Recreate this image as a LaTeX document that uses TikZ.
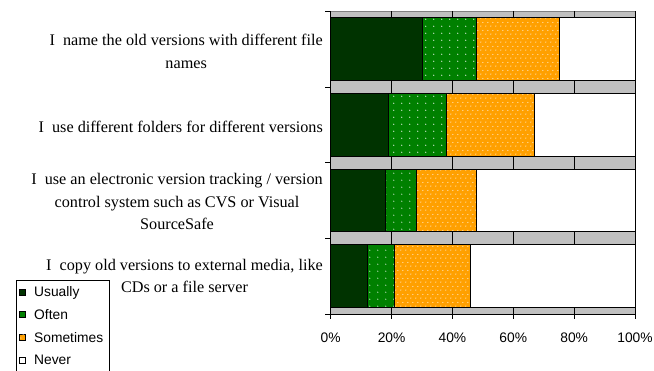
\documentclass[tikz,border=0pt]{standalone}
\usepackage{fontspec}
\setmainfont{Liberation Serif}
\newfontfamily\arialf{Liberation Sans}
\usetikzlibrary{patterns.meta}
\definecolor{cUsu}{HTML}{003300}
\definecolor{cOft}{HTML}{008000}
\definecolor{cSom}{HTML}{FFA000}
\definecolor{cGray}{HTML}{C0C0C0}
\definecolor{cFrame}{HTML}{808080}
\tikzdeclarepattern{
  name=oftdots,
  type=uncolored,
  bounding box={(0pt,0pt) and (8pt,7pt)},
  tile size={(8pt,7pt)},
  code={\fill (2pt,2pt) circle (0.65pt);}
}
\tikzdeclarepattern{
  name=somdots,
  type=uncolored,
  bounding box={(0pt,0pt) and (5pt,8pt)},
  tile size={(5pt,8pt)},
  code={\fill (1pt,1pt) circle (0.6pt); \fill (3.5pt,5pt) circle (0.6pt);}
}
\begin{document}
\begin{tikzpicture}[x=1pt,y=-1pt,
  catlabel/.style={anchor=east,inner sep=0pt,align=center,font=\fontsize{16.2}{22.7}\selectfont},
  ticklabel/.style={inner sep=0pt,font=\arialf\fontsize{13.8}{16}\selectfont},
  legtext/.style={anchor=west,inner sep=0pt,font=\arialf\fontsize{13.8}{16}\selectfont},
  legsq/.style={draw=black,line width=0.6pt,minimum size=6pt,inner sep=0pt},
  barline/.style={draw=black,line width=0.8pt},
  usu/.style={fill=cUsu},
  oft/.style={fill=cOft,postaction={pattern={oftdots},pattern color=white}},
  som/.style={fill=cSom,postaction={pattern={somdots},pattern color=white}},
  nev/.style={fill=white}
]
\useasboundingbox (0,0) rectangle (654,371);
% plot area
\fill[cGray] (330.7,11.3) rectangle (635,314);
\draw[cFrame,line width=0.8pt] (330.7,11.3) -- (635,11.3);
\foreach \p in {20,40,60,80,100}{
  \draw[black,line width=0.8pt] ({330.7+3.043*\p},11.3) -- ({330.7+3.043*\p},314);
}
% bars
\foreach \i/\u/\o/\s in {0/30/48/75, 1/19/38/67, 2/18/28/48, 3/12/21/46}{
  \pgfmathsetmacro\yt{17.7+75.67*\i}
  \pgfmathsetmacro\yb{\yt+62.6}
  \path[usu] (330.7,\yt) rectangle ({330.7+3.043*\u},\yb);
  \path[oft] ({330.7+3.043*\u},\yt) rectangle ({330.7+3.043*\o},\yb);
  \path[som] ({330.7+3.043*\o},\yt) rectangle ({330.7+3.043*\s},\yb);
  \path[nev] ({330.7+3.043*\s},\yt) rectangle (635,\yb);
  \draw[barline] (330.7,\yt) rectangle (635,\yb);
  \foreach \v in {\u,\o,\s}{
    \draw[barline] ({330.7+3.043*\v},\yt) -- ({330.7+3.043*\v},\yb);
  }
}
% axes
\draw[black,line width=0.8pt] (330.7,11.3) -- (330.7,314) -- (635,314);
\foreach \k in {0,1,2,3,4}{
  \draw[black,line width=0.8pt] (325,{11.3+75.67*\k}) -- (330.7,{11.3+75.67*\k});
}
\foreach \p/\n in {0/t0,20/t1,40/t2,60/t3,80/t4,100/t5}{
  \draw[black,line width=0.8pt] ({330.7+3.043*\p},314) -- ({330.7+3.043*\p},319.5);
  \node[ticklabel] (\n) at ({330.7+3.043*\p},337.7) {\p\%};
}
% category labels
\node[catlabel] (l1) at (323,51.3) {I~ name the old versions with different file\\names};
\node[catlabel] (l2) at (323,126.7) {I~ use different folders for different versions};
\node[catlabel] (l3) at (323,201.7) {I~ use an electronic version tracking / version\\control system such as CVS or Visual\\SourceSafe};
\node[catlabel] (l4) at (323,276) {I~ copy old versions to external media, like\\CDs or a file server};
% legend
\draw[black,line width=0.8pt,fill=white] (16,280) rectangle (109,380);
\foreach \yy/\st/\txt/\n in {292.7/usu/Usually/a, 314.3/oft/Often/b, 337.7/som/Sometimes/c, 360/nev/Never/d}{
  \node[legsq,\st] (sq\n) at (22,\yy) {};
  \node[legtext] (lt\n) at (34,\yy) {\txt};
}
\end{tikzpicture}
\end{document}
